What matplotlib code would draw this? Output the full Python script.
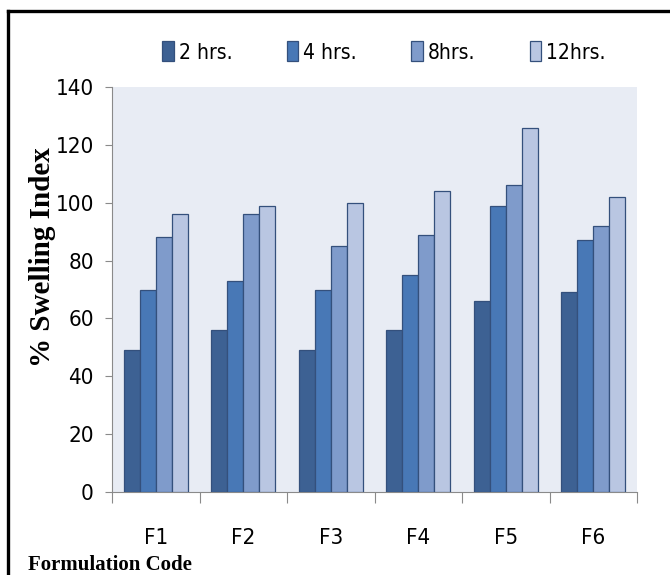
#!/usr/bin/env python3
"""
plot.py

Swelling index of the six formulations at 2, 4, 8 and 12 hours.
"""

import matplotlib
matplotlib.use('Agg')
import matplotlib.pyplot as plt
import numpy as np
from matplotlib.lines import Line2D

# Data.
formulations = ['F1', 'F2', 'F3', 'F4', 'F5', 'F6']
series_names = ['2 hrs.', '4 hrs.', '8hrs.', '12hrs.']
swell_2h = [49, 56, 49, 56, 66, 69]
swell_4h = [70, 73, 70, 75, 99, 87]
swell_8h = [88, 96, 85, 89, 106, 92]
swell_12h = [96, 99, 100, 104, 126, 102]
y_ticks = [0, 20, 40, 60, 80, 100, 120, 140]

colors = ['#3d6193', '#4878b6', '#7f9bcb', '#b9c6e2']
edge = '#34507c'
narrow = dict(family='DejaVu Sans', stretch='condensed')
serif = ['Liberation Serif', 'DejaVu Serif']

fig = plt.figure(figsize=(6.7, 5.75), dpi=100)
ax = fig.add_axes([112 / 670, 1 - 492 / 575, 525 / 670, 405 / 575])
ax.set_facecolor('#e8ecf4')

x = np.arange(len(formulations))
width = 0.183
all_series = [swell_2h, swell_4h, swell_8h, swell_12h]
for i, vals in enumerate(all_series):
    ax.bar(x + (i - 1.5) * width, vals, width, color=colors[i],
           edgecolor=edge, linewidth=0.9, label=series_names[i], zorder=3)

ax.set_xlim(-0.5, len(formulations) - 0.5)
ax.set_ylim(0, 140)
ax.set_yticks(y_ticks)
ax.set_yticklabels([str(t) for t in y_ticks], fontsize=16, **narrow)

# Category boundary ticks (no labels) and centred labels.
ax.set_xticks(np.arange(-0.5, len(formulations), 1.0))
ax.set_xticklabels([])
ax.set_xticks(x, minor=True)
ax.set_xticklabels(formulations, minor=True, fontsize=16, **narrow)
ax.tick_params(axis='x', which='major', length=8, color='#8a8a8a', direction='out')
ax.tick_params(axis='x', which='minor', length=0, pad=26)
ax.tick_params(axis='y', length=5, color='#8a8a8a', pad=8)

for side in ['top', 'right']:
    ax.spines[side].set_visible(False)
ax.spines['left'].set_color('#8a8a8a')
ax.spines['bottom'].set_color('#8a8a8a')

ax.text(-0.132, 0.58, '% Swelling Index', transform=ax.transAxes,
        rotation=90, ha='center', va='center', family=serif,
        fontweight='bold', fontsize=21)

fig.legend(loc='center', bbox_to_anchor=(384 / 670, 1 - 52 / 575), ncol=4,
           frameon=False, prop={'family': 'DejaVu Sans', 'stretch': 'condensed',
                                'size': 15},
           handlelength=0.55, handleheight=1.1, handletextpad=0.25,
           columnspacing=2.6)

fig.text(28 / 670, 1 - 565 / 575, 'Formulation Code', family=serif,
         fontweight='bold', fontsize=15, ha='left', va='center')

# Page frame lines (top and left).
fig.add_artist(Line2D([8 / 670, 1.0], [1 - 11 / 575, 1 - 11 / 575],
                      transform=fig.transFigure, color='black', lw=2.4))
fig.add_artist(Line2D([8 / 670, 8 / 670], [0.0, 1 - 11 / 575],
                      transform=fig.transFigure, color='black', lw=2.4))

fig.savefig('out.png', dpi=100)
